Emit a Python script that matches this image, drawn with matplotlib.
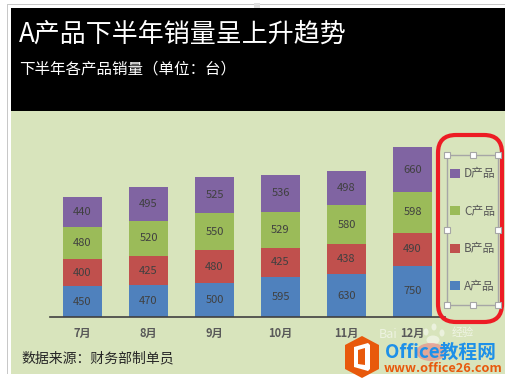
# -*- coding: utf-8 -*-
import matplotlib
matplotlib.use("Agg")
import matplotlib.pyplot as plt
from matplotlib.patches import Rectangle, FancyBboxPatch, Polygon, Ellipse
import numpy as np

plt.rcParams['font.family'] = ['Noto Sans CJK SC', 'DejaVu Sans']

months = ['7月', '8月', '9月', '10月', '11月', '12月']
prod_a = [450, 470, 500, 595, 630, 750]
prod_b = [400, 425, 480, 425, 438, 490]
prod_c = [480, 520, 550, 529, 580, 598]
prod_d = [440, 495, 525, 536, 498, 660]
names = ['A产品', 'B产品', 'C产品', 'D产品']
colors = ['#4F81BD', '#C0504D', '#9BBB59', '#8064A2']

W, H = 507, 385
fig = plt.figure(figsize=(W / 100, H / 100), dpi=100, facecolor='white')

# background layer in pixel coords
bg = fig.add_axes([0, 0, 1, 1])
bg.set_xlim(0, W)
bg.set_ylim(H, 0)
bg.axis('off')
bg.add_patch(Rectangle((7, 4), 1.2, 370, color='#C8C8C8', lw=0))
bg.add_patch(Rectangle((7, 3.5), 498, 1.2, color='#C8C8C8', lw=0))
bg.add_patch(Rectangle((254, 3), 6, 5, color='#E0E0E0', lw=0))
bg.add_patch(Rectangle((11, 8), 494, 103, color='black', lw=0))
bg.add_patch(Rectangle((11, 111), 494, 263, color='#D8E4BC', lw=0))
bg.text(19, 34, 'A产品下半年销量呈上升趋势', color='white', fontsize=18.7, va='center')
bg.text(19, 69, '下半年各产品销量（单位：台）', color='white', fontsize=11.2, va='center')
bg.text(21, 358, '数据来源：财务部制单员', color='#262626', fontsize=10, va='center')

# chart
x0, x1, y_base, y_top = 49.5, 445.5, 317, 139
ax = fig.add_axes([x0 / W, 1 - y_base / H, (x1 - x0) / W, (y_base - y_top) / H])
ax.patch.set_alpha(0)
x = np.arange(len(months))
bottom = np.zeros(len(months))
for vals, name, col in zip([prod_a, prod_b, prod_c, prod_d], names, colors):
    bars = ax.bar(x, vals, 0.585, bottom=bottom, color=col, label=name)
    ax.bar_label(bars, labels=[str(v) for v in vals], label_type='center',
                 fontsize=8, color='#404040')
    bottom += np.array(vals)
ax.set_xlim(-0.5, 5.5)
ax.set_ylim(0, (y_base - y_top) / 0.068)
ax.set_xticks(x, months)
ax.tick_params(axis='x', length=0, pad=7, labelsize=8, labelcolor='#595959')
for t in ax.get_xticklabels():
    t.set_fontweight('bold')
ax.set_yticks([])
for s in ['top', 'left', 'right']:
    ax.spines[s].set_visible(False)
ax.spines['bottom'].set_color('#404040')
ax.spines['bottom'].set_linewidth(1.2)

# legend, top to bottom D..A
h, l = ax.get_legend_handles_labels()
leg = fig.legend(h[::-1], l[::-1], loc='center', bbox_to_anchor=(473 / W, 1 - 230 / H),
                 frameon=False, fontsize=8.5, labelcolor='#595959', handlelength=0.8,
                 handleheight=0.8, handletextpad=0.35, labelspacing=2.08)

# top layer: selection frame and red mark
top = fig.add_axes([0, 0, 1, 1])
top.set_xlim(0, W)
top.set_ylim(H, 0)
top.axis('off')
top.patch.set_alpha(0)
top.add_patch(Rectangle((447, 155), 51, 150, fill=False, ec='#A6A6A6', lw=1))
hx = [447, 472.5, 498, 447, 498, 447, 472.5, 498]
hy = [155, 155, 155, 230, 230, 305, 305, 305]
top.plot(hx, hy, ls='none', marker='s', ms=4.5, mfc='white', mec='#A6A6A6', mew=0.8)
top.add_patch(FancyBboxPatch((456, 153), 28, 151, boxstyle='round,pad=18,rounding_size=18',
                             fill=False, ec='#ED1C24', lw=3))

# watermark
for ex, ey, ew, eh in [(426, 332, 5, 7), (434, 327, 5, 7), (442, 333, 5, 7), (433, 340, 13, 9)]:
    top.add_patch(Ellipse((ex, ey), ew, eh, color='white', alpha=0.5, lw=0))
top.add_patch(Ellipse((431, 352), 30, 18, color='#E88080', alpha=0.6, lw=0))
top.text(398, 335, 'Bai', color='white', alpha=0.55, fontsize=9, ha='right', va='center')
top.text(463, 333, '经验', color='white', alpha=0.6, fontsize=8, ha='center', va='center')

# logo
hexa = [(362, 336), (379, 345), (379, 369), (362, 378), (345, 369), (345, 345)]
top.add_patch(Polygon(hexa, closed=True, color='#E8590C', lw=0))
top.add_patch(Polygon([(354, 347), (368, 343), (370, 345), (370, 369), (368, 371), (354, 367)],
                      closed=True, color='white', lw=0))
top.add_patch(Polygon([(358, 350), (365, 348), (365, 365), (358, 364)], closed=True,
                      color='#E8590C', lw=0))
top.text(385, 352, 'Office教程网', color='#1E90E8', fontsize=13.5, fontweight='bold', va='center')
top.text(384, 368, 'www.office26.com', color='#E8590C', fontsize=9.2, fontweight='bold', va='center')

fig.savefig('out.png', dpi=100, facecolor='white')
